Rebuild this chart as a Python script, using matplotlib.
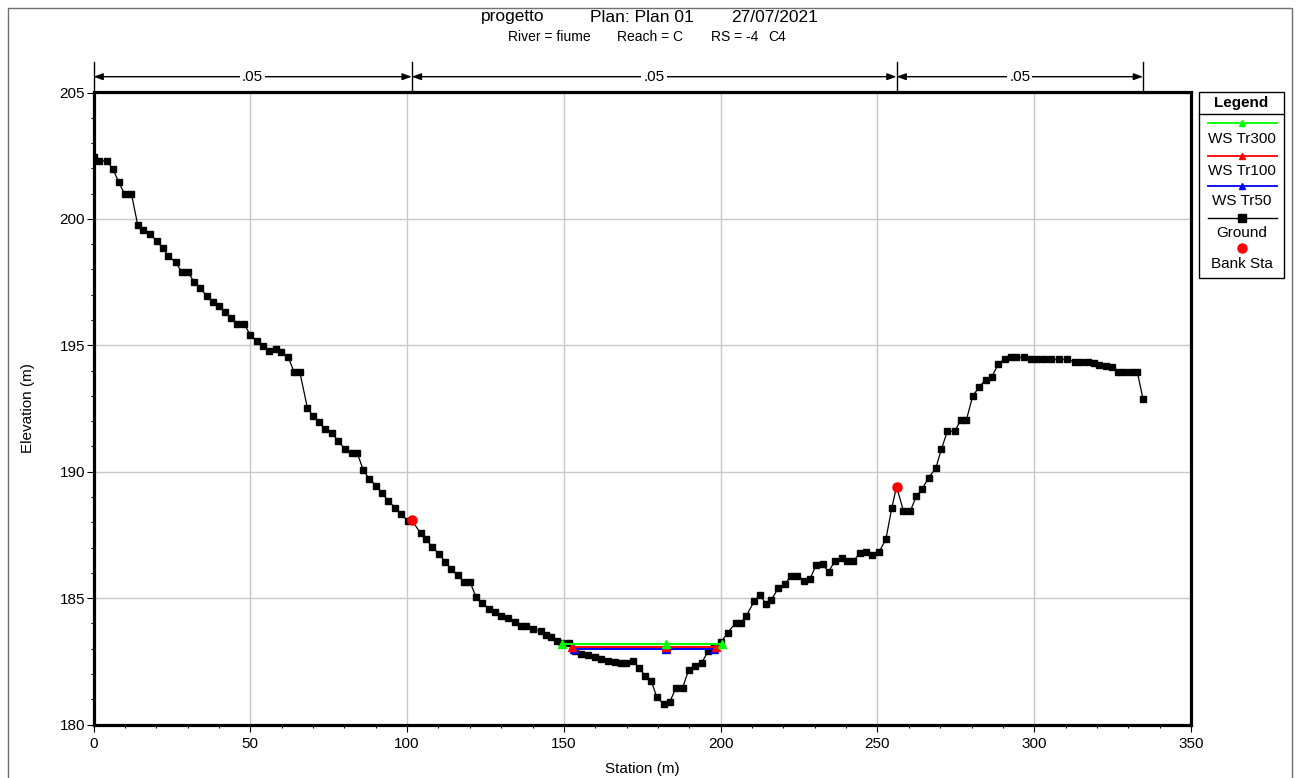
import matplotlib
matplotlib.use("Agg")
import matplotlib.pyplot as plt
from matplotlib.patches import Rectangle
from matplotlib.lines import Line2D
import matplotlib.transforms as mtransforms
import numpy as np

plt.rcParams['font.family'] = ['Liberation Sans', 'DejaVu Sans']

# ---------------- data ----------------
ground_sta = [0, 1.9, 4.2, 6.2, 8.1, 9.9, 12.1, 14.1, 15.9, 18.1, 20.1, 22.1, 23.9, 26.2,
              28.1, 30.0, 32.2, 34.1, 36.1, 38.0, 40.1, 42.0, 44.0, 45.9, 48.0, 50.0,
              52.0, 54.1, 56.0, 58.1, 59.9, 62.1, 64.0, 65.8, 68.2, 69.9, 71.9, 73.8,
              75.9, 78.0, 80.1, 82.3, 84.1, 86.0, 87.8, 90.2, 92.1, 94.0, 96.3, 98.2,
              100.3, 101.5, 104.3, 106.1, 108.0, 110.3, 112.2, 114.1, 116.1, 118.3,
              120.1, 122.0, 123.9, 126.2, 128.1, 130.0, 132.1, 134.3, 136.4, 137.9,
              140.2, 142.7, 144.2, 146.0, 147.9, 149.4, 151.5, 153.7, 155.6, 157.7,
              160.0, 161.9, 164.0, 166.2, 168.1, 169.9, 172.0, 174.1, 175.9, 177.8,
              179.6, 181.8, 183.8, 185.8, 187.9, 189.8, 191.7, 193.9, 196.0, 198.0,
              200.1, 202.2, 204.8, 206.4, 208.2, 210.7, 212.5, 214.4, 216.2, 218.4,
              220.5, 222.4, 224.5, 226.6, 228.5, 230.4, 232.5, 234.4, 236.4, 238.6,
              240.4, 242.2, 244.4, 246.5, 248.4, 250.5, 252.7, 254.6, 256.1, 258.3,
              260.5, 262.4, 264.3, 266.3, 268.6, 270.4, 272.3, 274.7, 276.6, 278.4,
              280.4, 282.4, 284.5, 286.5, 288.6, 290.6, 292.5, 294.3, 296.8, 298.9,
              301.0, 303.1, 305.3, 307.9, 310.6, 313.0, 314.8, 317.3, 319.1, 320.7,
              322.8, 324.9, 326.8, 328.6, 330.8, 332.9, 334.7]
ground_elev = [202.45, 202.28, 202.31, 201.97, 201.44, 200.99, 200.99, 199.76, 199.56,
               199.40, 199.13, 198.84, 198.53, 198.28, 197.91, 197.91, 197.49, 197.25,
               196.96, 196.72, 196.55, 196.31, 196.08, 195.86, 195.86, 195.40, 195.16,
               194.98, 194.76, 194.84, 194.73, 194.52, 193.94, 193.94, 192.53, 192.22,
               191.96, 191.69, 191.53, 191.23, 190.90, 190.73, 190.73, 190.08, 189.73,
               189.44, 189.14, 188.85, 188.56, 188.32, 188.05, 188.08, 187.57, 187.33,
               187.02, 186.73, 186.44, 186.14, 185.90, 185.63, 185.63, 185.04, 184.81,
               184.58, 184.44, 184.29, 184.22, 184.05, 183.89, 183.89, 183.78, 183.68,
               183.55, 183.46, 183.29, 183.22, 183.22, 182.89, 182.79, 182.73, 182.67,
               182.60, 182.52, 182.47, 182.43, 182.43, 182.52, 182.23, 181.92, 181.74,
               181.10, 180.81, 180.90, 181.46, 181.46, 182.16, 182.32, 182.43, 182.89,
               183.05, 183.25, 183.62, 184.02, 184.02, 184.31, 184.87, 185.14, 184.77,
               184.94, 185.40, 185.54, 185.89, 185.89, 185.69, 185.76, 186.29, 186.33,
               186.04, 186.46, 186.59, 186.46, 186.46, 186.77, 186.82, 186.69, 186.82,
               187.33, 188.58, 189.41, 188.45, 188.45, 189.02, 189.32, 189.77, 190.13,
               190.89, 191.60, 191.60, 192.06, 192.06, 193.00, 193.34, 193.64, 193.76,
               194.27, 194.46, 194.52, 194.52, 194.52, 194.44, 194.44, 194.44, 194.44,
               194.44, 194.44, 194.33, 194.33, 194.33, 194.30, 194.24, 194.17, 194.13,
               193.96, 193.93, 193.93, 193.93, 192.88]

bank_sta = [101.5, 256.1]
bank_elev = [188.08, 189.41]

ws_tr300_sta = [149.5, 182.5, 200.4]
ws_tr300_elev = [183.18, 183.18, 183.18]
ws_tr100_sta = [152.6, 182.5, 198.6]
ws_tr100_elev = [183.06, 183.06, 183.06]
ws_tr50_sta = [153.3, 182.5, 197.8]
ws_tr50_elev = [183.00, 183.00, 183.00]

mann_sta = [0, 101.5, 256.1, 334.7]
mann_n = [".05", ".05", ".05"]

legend_labels = ["WS Tr300", "WS Tr100", "WS Tr50", "Ground", "Bank Sta"]

title_parts = ["progetto", "Plan: Plan 01", "27/07/2021"]
subtitle_parts = ["River = fiume", "Reach = C", "RS = -4", "C4"]

# ---------------- figure ----------------
W, H = 1298, 778
fig = plt.figure(figsize=(W / 100, H / 100), dpi=100)

def fx(px):
    return px / W

def fy(py):
    return 1 - py / H

ax_l, ax_r, ax_t, ax_b = 93.5, 1191, 92.5, 724.5
ax = fig.add_axes([fx(ax_l), fy(ax_b), fx(ax_r - ax_l), (ax_b - ax_t) / H])

ax.set_xlim(0, 350)
ax.set_ylim(180, 205)
ax.set_xticks(np.arange(0, 351, 50))
ax.set_yticks(np.arange(180, 206, 5))
ax.set_xticks(np.arange(0, 351, 10), minor=True)
ax.set_yticks(np.arange(180, 206, 1), minor=True)
ax.grid(True, which='major', color='#c8c8c8', lw=1.0)
ax.set_axisbelow(True)
ax.tick_params(which='major', direction='out', length=5, width=0.8, labelsize=11,
               color='black')
ax.tick_params(axis='x', which='major', pad=4)
ax.tick_params(axis='y', which='major', pad=1)
ax.tick_params(which='minor', direction='out', length=2.5, width=0.8, color='black')
for s in ax.spines.values():
    s.set_linewidth(2.3)
    s.set_color('black')

# ground
ax.plot(ground_sta, ground_elev, color='black', lw=0.9, marker='s', ms=5.0,
        mec='black', mfc='black', zorder=3)
# water surfaces
ax.plot(ws_tr50_sta, ws_tr50_elev, color='#0000ff', lw=1.5, marker='^', ms=5.5, zorder=4)
ax.plot(ws_tr100_sta, ws_tr100_elev, color='#ff0000', lw=1.5, marker='^', ms=5.5, zorder=5)
ax.plot(ws_tr300_sta, ws_tr300_elev, color='#00ff00', lw=1.5, marker='^', ms=5.5, zorder=6)
# bank stations
ax.plot(bank_sta, bank_elev, linestyle='none', marker='o', ms=6.5, color='#ff0000',
        zorder=7)

ax.set_xlabel("Station (m)", fontsize=11)
ax.set_ylabel("Elevation (m)", fontsize=11)
ax.xaxis.set_label_coords(0.5, -(769 - ax_b) / (ax_b - ax_t))
ax.xaxis.label.set_va('center')
ax.yaxis.set_label_coords(-(ax_l - 28) / (ax_r - ax_l), 0.5)
ax.yaxis.label.set_va('center')

# Manning's n bar above the axes
trans = mtransforms.blended_transform_factory(ax.transData, ax.transAxes)
axh = ax_b - ax_t
y_arrow = 1 + (ax_t - 76.7) / axh
y_top = 1 + (ax_t - 61.7) / axh
for s in mann_sta:
    ax.add_line(Line2D([s, s], [1.0, y_top], transform=trans, color='black', lw=1.0,
                       clip_on=False))
for i, n in enumerate(mann_n):
    a, b = mann_sta[i], mann_sta[i + 1]
    ax.annotate("", xy=(a, y_arrow), xytext=(b, y_arrow), xycoords=trans,
                textcoords=trans,
                arrowprops=dict(arrowstyle='<|-|>,head_length=0.55,head_width=0.2',
                                color='black', lw=1.0, shrinkA=0, shrinkB=0))
    ax.text((a + b) / 2, y_arrow, n, transform=trans, ha='center', va='center',
            fontsize=11, bbox=dict(facecolor='white', edgecolor='none', pad=1.5),
            clip_on=False)

# titles
for txt, x in zip(title_parts, [481, 590, 731]):
    fig.text(fx(x), fy(17), txt, ha='left', va='center', fontsize=12.5)
for txt, x in zip(subtitle_parts, [508, 617, 711, 768]):
    fig.text(fx(x), fy(37), txt, ha='left', va='center', fontsize=10)

# outer frame
fig.add_artist(Rectangle((fx(7.5), fy(800)), fx(1292 - 7.5), (800 - 8.3) / H,
                         transform=fig.transFigure, fill=False, edgecolor='#707070',
                         lw=1.0, clip_on=False))

# legend box
lx0, lx1, ly0, ly1 = 1199, 1284, 92, 278
fig.add_artist(Rectangle((fx(lx0), fy(ly1)), fx(lx1 - lx0), (ly1 - ly0) / H,
                         transform=fig.transFigure, fill=False, edgecolor='black', lw=1.0))
fig.add_artist(Line2D([fx(lx0), fx(lx1)], [fy(114), fy(114)], transform=fig.transFigure,
                      color='black', lw=1.0))
fig.text(fx((lx0 + lx1) / 2), fy(103), "Legend", ha='center', va='center', fontsize=11,
         fontweight='bold')
cx = (lx0 + lx1) / 2
items = [
    ('#00ff00', '^', 123.3, 139),
    ('#ff0000', '^', 155.7, 170.7),
    ('#0000ff', '^', 186, 201),
    ('black', 's', 217.7, 232.7),
]
for (col, mk, yl, yt), lab in zip(items, legend_labels[:4]):
    fig.add_artist(Line2D([fx(1208), fx(1277)], [fy(yl), fy(yl)], transform=fig.transFigure,
                          color=col, lw=1.3 if mk == '^' else 1.0))
    fig.add_artist(Line2D([fx(cx)], [fy(yl)], transform=fig.transFigure, color=col,
                          marker=mk, ms=5 if mk == '^' else 5.2, linestyle='none'))
    fig.text(fx(cx), fy(yt), lab, ha='center', va='center', fontsize=11)
fig.add_artist(Line2D([fx(cx)], [fy(248.3)], transform=fig.transFigure, color='#ff0000',
                      marker='o', ms=6.5, linestyle='none'))
fig.text(fx(cx), fy(264.3), legend_labels[4], ha='center', va='center', fontsize=11)

fig.savefig("out.png", dpi=100)
